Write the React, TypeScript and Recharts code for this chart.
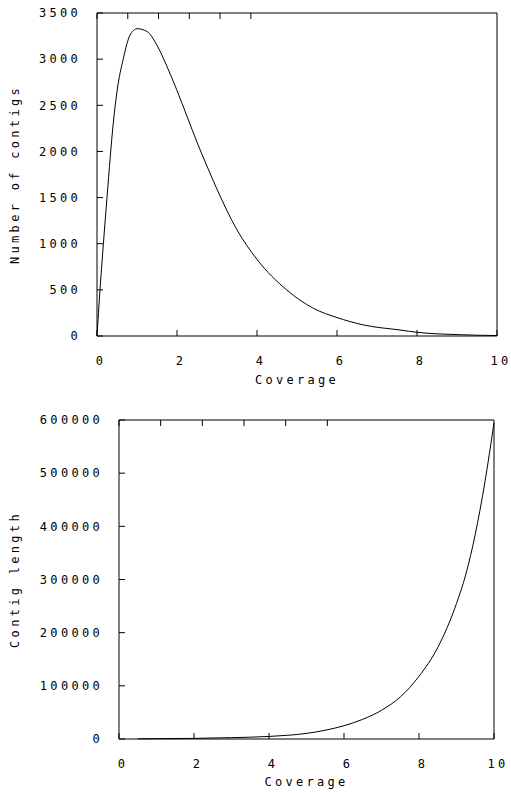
import { LineChart, Line, XAxis, YAxis } from 'recharts';

// top plot: number of contigs vs coverage
const coverageA = [0, 0.075, 0.16, 0.25, 0.41, 0.5, 0.66, 0.825, 1.0, 1.25, 1.5, 1.75, 2.0, 2.25, 2.5, 2.75, 3.0, 3.5, 4.0, 4.74, 5.41, 6.0, 6.66, 7.575, 8.0, 9.0, 10];
const contigCount = [0, 500, 1000, 1500, 2320, 2650, 3010, 3260, 3330, 3300, 3150, 2920, 2660, 2380, 2100, 1840, 1590, 1150, 830, 500, 300, 200, 120, 65, 40, 15, 5];

// bottom plot: contig length vs coverage
const coverageB = [0.5, 1, 2, 3, 4, 4.5, 5, 5.5, 6, 6.5, 7, 7.5, 8, 8.5, 9, 9.25, 9.5, 9.75, 10];
const contigLength = [300, 600, 1200, 2500, 4800, 7000, 10500, 16500, 25000, 37000, 54000, 79000, 118000, 172000, 255000, 310000, 385000, 480000, 595000];

const xTicks = [0, 2, 4, 6, 8, 10];
const countTicks = [0, 500, 1000, 1500, 2000, 2500, 3000, 3500];
const lengthTicks = [0, 100000, 200000, 300000, 400000, 500000, 600000];

const countData = coverageA.map((c, i) => ({ c, v: contigCount[i] }));
const lengthData = coverageB.map((c, i) => ({ c, v: contigLength[i] }));

const FONT = 'DejaVu Sans Mono';
const txt = { fill: '#000', fontSize: 12, fontFamily: FONT, letterSpacing: 3.3 };
const line = { stroke: '#000' };
const TICK = 6;
const X_GAP = 20;
const Y_GAP = 16;

// gnuplot-like ticks pointing into the frame
const BottomTick = (p: any) => {
  const base = p.y - X_GAP;
  return (
    <g>
      <line x1={p.x} x2={p.x} y1={base} y2={base - TICK} stroke="#000" />
      <text x={p.x + 4} y={p.y} dy="0.71em" textAnchor="middle" {...txt}>{p.payload.value}</text>
    </g>
  );
};

const LeftTick = (p: any) => {
  const base = p.x + Y_GAP;
  return (
    <g>
      <line x1={base} x2={base + TICK} y1={p.y} y2={p.y} stroke="#000" />
      <text x={p.x} y={p.y} dy="0.355em" textAnchor="end" {...txt}>{p.payload.value}</text>
    </g>
  );
};

const TopTick = (p: any) => (
  <line x1={p.x} x2={p.x} y1={p.y} y2={p.y + TICK} stroke="#000" />
);

const RightTick = (p: any) => (
  <line x1={p.x} x2={p.x - TICK} y1={p.y} y2={p.y} stroke="#000" />
);

const yTitle = (text: string) => ({ viewBox }: any) => {
  const x = 15;
  const cy = viewBox.y + viewBox.height / 2;
  return (
    <text
      x={x}
      y={cy}
      transform={`rotate(-90 ${x} ${cy})`}
      textAnchor="middle"
      dominantBaseline="central"
      {...txt}
    >
      {text}
    </text>
  );
};

interface PlotProps {
  data: { c: number; v: number }[];
  yTicks: number[];
  yMax: number;
  yLabel: string;
  height: number;
  margin: { top: number; right: number; bottom: number; left: number };
  yWidth: number;
  labelOffset: number;
}

function Plot({ data, yTicks, yMax, yLabel, height, margin, yWidth, labelOffset }: PlotProps) {
  return (
    <LineChart width={511} height={height} data={data} margin={margin}>
      <XAxis
        dataKey="c"
        type="number"
        domain={[0, 10]}
        ticks={xTicks}
        height={50}
        axisLine={line}
        tickLine={false}
        tickSize={0}
        tickMargin={X_GAP}
        tick={BottomTick}
        label={{ value: 'Coverage', position: 'insideBottom', offset: labelOffset, ...txt }}
      />
      <XAxis
        xAxisId="top"
        orientation="top"
        type="number"
        domain={[0, 10]}
        ticks={xTicks}
        height={1}
        axisLine={line}
        tickLine={false}
        tickSize={0}
        tickMargin={0}
        tick={TopTick}
      />
      <YAxis
        type="number"
        domain={[0, yMax]}
        ticks={yTicks}
        width={yWidth}
        axisLine={line}
        tickLine={false}
        tickSize={0}
        tickMargin={Y_GAP}
        tick={LeftTick}
        label={{ content: yTitle(yLabel) }}
      />
      <YAxis
        yAxisId="right"
        orientation="right"
        type="number"
        domain={[0, yMax]}
        ticks={yTicks}
        width={1}
        axisLine={line}
        tickLine={false}
        tickSize={0}
        tickMargin={0}
        tick={RightTick}
      />
      <Line
        type="monotone"
        dataKey="v"
        stroke="#000"
        strokeWidth={1}
        dot={false}
        isAnimationActive={false}
      />
    </LineChart>
  );
}

export default function App() {
  return (
    <div style={{ position: 'absolute', left: 0, top: 0, width: 511, height: 793, background: '#fff' }}>
      <div style={{ position: 'absolute', left: 0, top: 0 }}>
        <Plot
          data={countData}
          yTicks={countTicks}
          yMax={3500}
          yLabel="Number of contigs"
          height={400}
          margin={{ top: 12, right: 13, bottom: 14, left: 7 }}
          yWidth={90}
          labelOffset={2}
        />
      </div>
      <div style={{ position: 'absolute', left: 0, top: 400 }}>
        <Plot
          data={lengthData}
          yTicks={lengthTicks}
          yMax={600000}
          yLabel="Contig length"
          height={393}
          margin={{ top: 19, right: 16, bottom: 4, left: 9 }}
          yWidth={110}
          labelOffset={3}
        />
      </div>
    </div>
  );
}
